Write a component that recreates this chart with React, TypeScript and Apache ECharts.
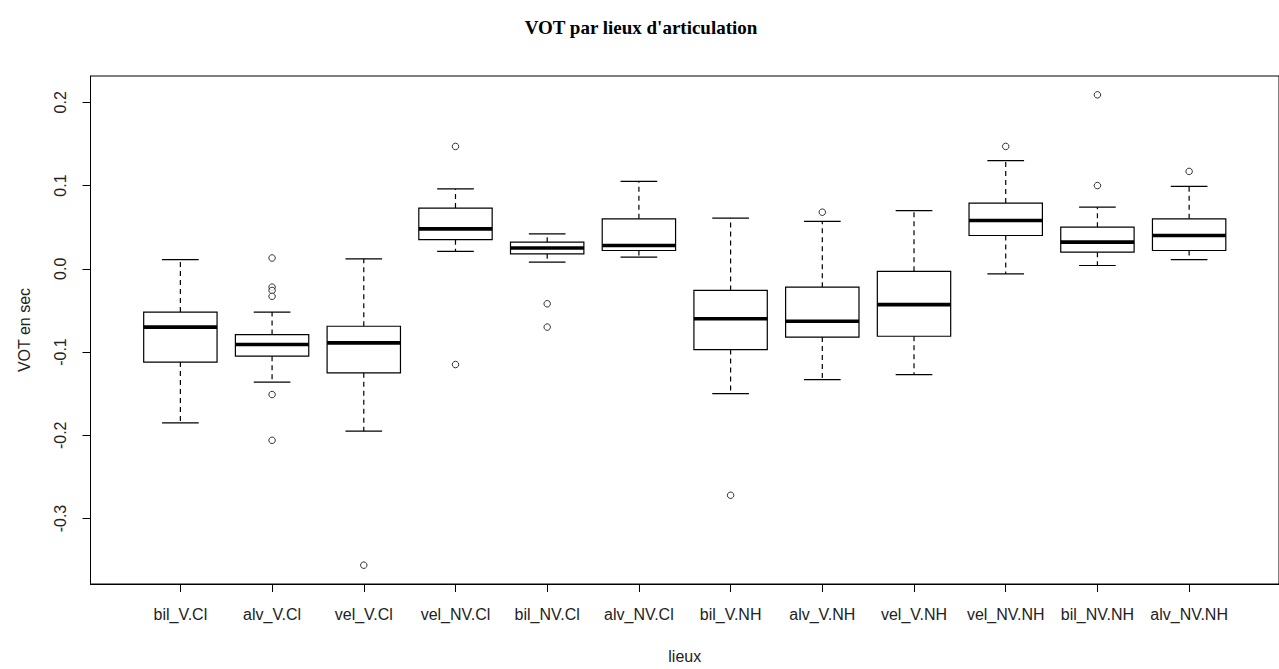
import React, { useEffect, useRef } from "react";
import * as echarts from "echarts";

const categories = [
  "bil_V.Cl", "alv_V.Cl", "vel_V.Cl", "vel_NV.Cl", "bil_NV.Cl", "alv_NV.Cl",
  "bil_V.NH", "alv_V.NH", "vel_V.NH", "vel_NV.NH", "bil_NV.NH", "alv_NV.NH",
];
const whiskerLow = [-0.185, -0.136, -0.195, 0.021, 0.008, 0.014, -0.150, -0.133, -0.127, -0.006, 0.004, 0.011];
const q1 = [-0.112, -0.105, -0.125, 0.035, 0.018, 0.022, -0.097, -0.082, -0.081, 0.040, 0.020, 0.022];
const median = [-0.070, -0.091, -0.089, 0.048, 0.025, 0.028, -0.060, -0.063, -0.043, 0.058, 0.032, 0.040];
const q3 = [-0.052, -0.079, -0.069, 0.073, 0.032, 0.060, -0.026, -0.022, -0.003, 0.079, 0.050, 0.060];
const whiskerHigh = [0.011, -0.052, 0.012, 0.096, 0.042, 0.105, 0.061, 0.057, 0.070, 0.130, 0.074, 0.099];
// outliers: [category position (1-based), value]
const outliers: [number, number][] = [
  [2, 0.013], [2, -0.022], [2, -0.026], [2, -0.033], [2, -0.151], [2, -0.206],
  [3, -0.356],
  [4, 0.147], [4, -0.115],
  [5, -0.042], [5, -0.070],
  [7, -0.272],
  [8, 0.068],
  [10, 0.147],
  [11, 0.209], [11, 0.100],
  [12, 0.117],
];
const yTicks = [-0.3, -0.2, -0.1, 0.0, 0.1, 0.2];
const xTicks = categories.map((_, i) => i + 1);

const title = "VOT par lieux d'articulation";
const xName = "lieux";
const yName = "VOT en sec";

export default function App() {
  const ref = useRef<HTMLDivElement>(null);
  useEffect(() => {
    if (!ref.current) return;
    const chart = echarts.init(ref.current, undefined, { renderer: "svg" });

    const allVals = [...whiskerLow, ...whiskerHigh, ...outliers.map((o) => o[1])];
    const dMin = Math.min(...allVals);
    const dMax = Math.max(...allVals);
    const pad = (dMax - dMin) * 0.04;
    const xPad = categories.length * 0.04;

    const boxData = categories.map((_, i) => [i + 1, whiskerLow[i], q1[i], median[i], q3[i], whiskerHigh[i]]);
    const sans = "'Liberation Sans', Arial, sans-serif";
    const ink = "#000";
    const textInk = "#222";

    chart.setOption({
      animation: false,
      backgroundColor: "#fff",
      title: {
        text: title,
        left: 636,
        top: 13,
        textAlign: "center",
        textStyle: { fontFamily: "'Liberation Serif', 'Times New Roman', serif", fontWeight: "bold", fontSize: 19, color: "#000" },
      },
      grid: { left: 90.5, top: 76, right: -10, bottom: 78, show: true, borderColor: ink, borderWidth: 1, backgroundColor: "transparent" },
      xAxis: {
        type: "value",
        min: 0.5 - xPad,
        max: categories.length + 0.5 + xPad,
        name: xName,
        nameLocation: "middle",
        nameGap: 64,
        nameTextStyle: { fontFamily: sans, fontSize: 16, color: textInk },
        splitLine: { show: false },
        axisLine: { show: true, onZero: false, lineStyle: { color: ink, width: 1 } },
        axisTick: { show: true, length: 8, customValues: xTicks, lineStyle: { color: ink } },
        axisLabel: {
          customValues: xTicks,
          margin: 22,
          fontFamily: sans,
          fontSize: 16,
          color: textInk,
          formatter: (v: number) => categories[Math.round(v) - 1] ?? "",
        },
      },
      yAxis: {
        type: "value",
        min: dMin - pad,
        max: dMax + pad,
        name: yName,
        nameLocation: "middle",
        nameRotate: 90,
        nameGap: 58,
        nameTextStyle: { fontFamily: sans, fontSize: 16, color: textInk },
        splitLine: { show: false },
        axisLine: { show: true, onZero: false, lineStyle: { color: ink, width: 1 } },
        axisTick: { show: true, length: 8, customValues: yTicks, lineStyle: { color: ink } },
        axisLabel: {
          customValues: yTicks,
          rotate: 90,
          margin: 22,
          fontFamily: sans,
          fontSize: 16,
          color: textInk,
          formatter: (v: number) => v.toFixed(1),
        },
      },
      series: [
        {
          type: "custom",
          data: boxData,
          encode: { x: 0, y: [1, 2, 3, 4, 5] },
          renderItem: (params: any, api: any) => {
            const x = api.value(0);
            const pLow = api.coord([x, api.value(1)]);
            const pQ1 = api.coord([x, api.value(2)]);
            const pMed = api.coord([x, api.value(3)]);
            const pQ3 = api.coord([x, api.value(4)]);
            const pHigh = api.coord([x, api.value(5)]);
            const bw = api.size([0.8, 0])[0];
            const cw = api.size([0.4, 0])[0];
            const cx = pMed[0];
            const solid = { stroke: ink, lineWidth: 1.2, fill: null };
            const dashed = { stroke: ink, lineWidth: 1.2, lineDash: [5, 4], fill: null };
            return {
              type: "group",
              children: [
                { type: "line", shape: { x1: cx, y1: pQ3[1], x2: cx, y2: pHigh[1] }, style: dashed },
                { type: "line", shape: { x1: cx, y1: pQ1[1], x2: cx, y2: pLow[1] }, style: dashed },
                { type: "line", shape: { x1: cx - cw / 2, y1: pHigh[1], x2: cx + cw / 2, y2: pHigh[1] }, style: solid },
                { type: "line", shape: { x1: cx - cw / 2, y1: pLow[1], x2: cx + cw / 2, y2: pLow[1] }, style: solid },
                { type: "rect", shape: { x: cx - bw / 2, y: pQ3[1], width: bw, height: pQ1[1] - pQ3[1] }, style: { stroke: ink, lineWidth: 1.2, fill: "#fff" } },
                { type: "line", shape: { x1: cx - bw / 2, y1: pMed[1], x2: cx + bw / 2, y2: pMed[1] }, style: { stroke: ink, lineWidth: 3.6 } },
              ],
            };
          },
        },
        {
          type: "scatter",
          data: outliers,
          symbol: "circle",
          symbolSize: 6.5,
          itemStyle: { color: "#fff", borderColor: ink, borderWidth: 1 },
          z: 5,
        },
      ],
    });
    return () => chart.dispose();
  }, []);
  return (
    <div
      ref={ref}
      style={{ position: "fixed", left: 0, top: 0, width: 1279, height: 669, background: "#fff" }}
    />
  );
}
